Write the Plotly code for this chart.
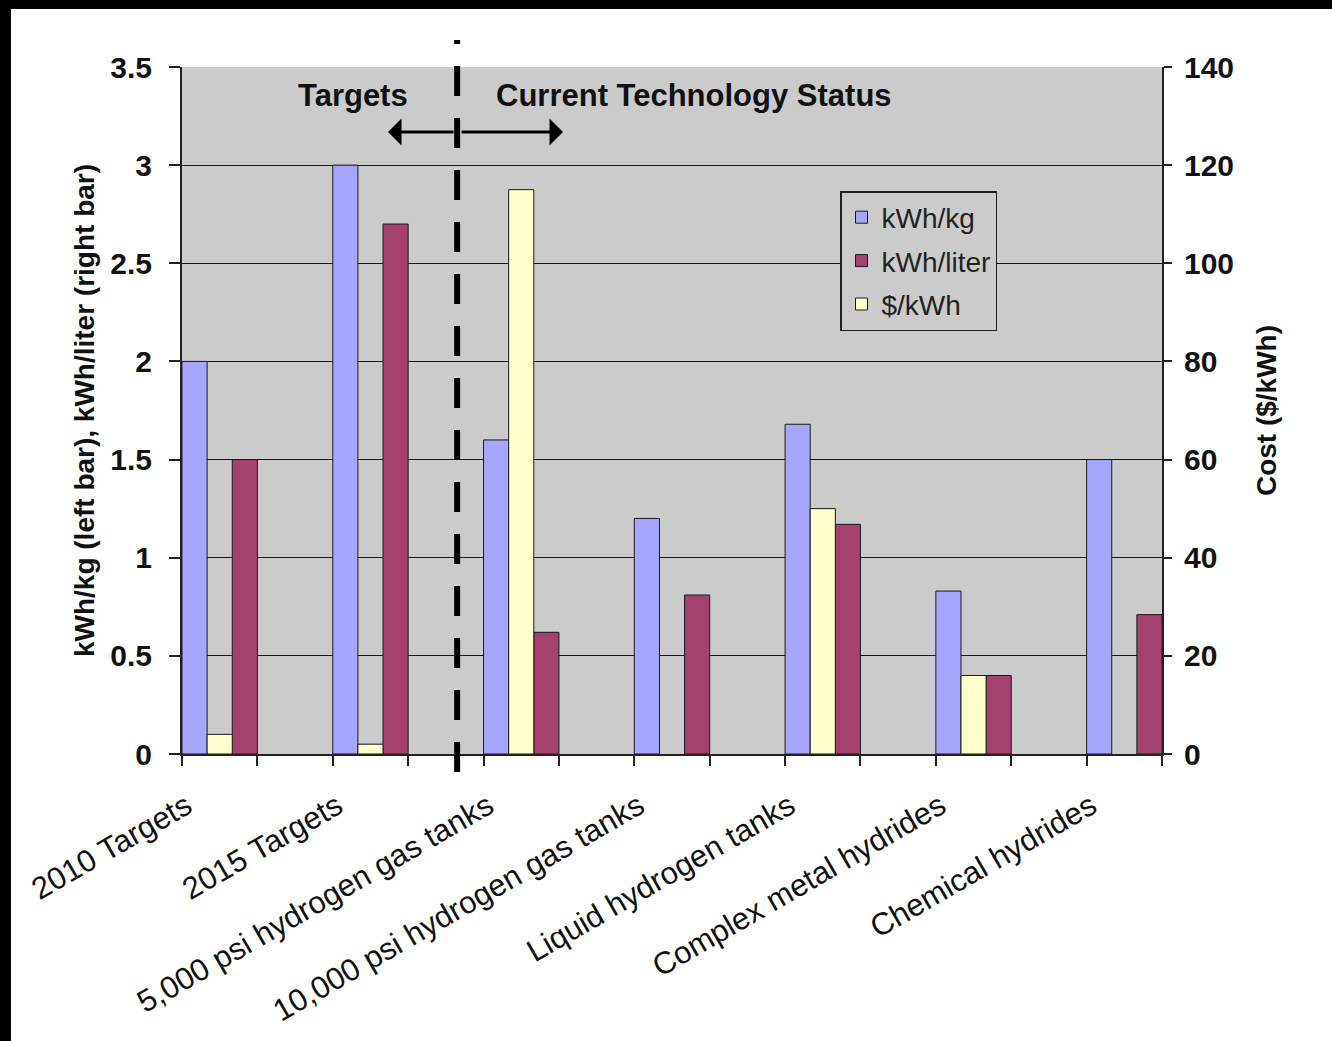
import plotly.graph_objects as go

# ---- data -------------------------------------------------------------
categories = [
    "2010 Targets",
    "2015 Targets",
    "5,000 psi hydrogen gas tanks",
    "10,000 psi hydrogen gas tanks",
    "Liquid hydrogen tanks",
    "Complex metal hydrides",
    "Chemical hydrides",
]
kwh_per_kg = [2.0, 3.0, 1.6, 1.2, 1.68, 0.83, 1.5]
kwh_per_liter = [1.5, 2.7, 0.62, 0.81, 1.17, 0.4, 0.71]
cost_per_kwh = [4, 2, 115, None, 50, 16, None]

left_ticks = [0, 0.5, 1, 1.5, 2, 2.5, 3, 3.5]
right_ticks = [0, 20, 40, 60, 80, 100, 120, 140]

# ---- layout geometry --------------------------------------------------
W, H = 1332, 1041
ML, MR, MT, MB = 182, 170, 67, 287
PW = W - ML - MR
PH = H - MT - MB

# each category occupies one slot, with an empty slot between neighbours
n_slots = 2 * len(categories) - 1
x_pos = [2 * i for i in range(len(categories))]
bar_w = 1 / 3
label_shift = 0.44           # slanted labels end near the left of each group
divider_slot = 3.15          # dashed separator between targets and status


def px_x(px):
    return (px - ML) / PW


def px_y(py):
    return (H - MB - py) / PH


def slot_to_paper(s):
    return (s + 0.5) / n_slots


FONT = "Liberation Sans, Arial, sans-serif"
INK = "#111111"
PLOT_BG = "#cbcbcb"

fig = go.Figure()

fig.add_trace(go.Bar(
    name="kWh/kg", x=x_pos, y=kwh_per_kg,
    width=bar_w, offset=-0.5,
    marker=dict(color="#a6a6ff", line=dict(color="#1a1a1a", width=1)),
    legendgroup="a", yaxis="y",
))
fig.add_trace(go.Bar(
    name="kWh/liter", x=x_pos, y=kwh_per_liter,
    width=bar_w, offset=-0.5 + 2 * bar_w,
    marker=dict(color="#a4416f", line=dict(color="#1a1a1a", width=1)),
    legendgroup="b", yaxis="y",
))
fig.add_trace(go.Bar(
    name="$/kWh", x=x_pos, y=cost_per_kwh,
    width=bar_w, offset=-0.5 + bar_w,
    marker=dict(color="#ffffcc", line=dict(color="#1a1a1a", width=1)),
    legendgroup="c", yaxis="y2",
))

shapes = [
    # dark frame edges along the top and left of the page
    dict(type="rect", xref="paper", yref="paper",
         x0=px_x(0), x1=px_x(W), y0=px_y(9), y1=px_y(0),
         fillcolor="black", line=dict(width=0), layer="above"),
    dict(type="rect", xref="paper", yref="paper",
         x0=px_x(0), x1=px_x(11), y0=px_y(H), y1=px_y(0),
         fillcolor="black", line=dict(width=0), layer="above"),
    # dashed divider between targets and current technology
    dict(type="line", xref="paper", yref="paper",
         x0=slot_to_paper(divider_slot), x1=slot_to_paper(divider_slot),
         y0=px_y(772), y1=px_y(40),
         line=dict(color="black", width=6, dash="30px,22px"), layer="above"),
]

header_font = dict(family=FONT, size=31, color=INK, weight="bold")
annotations = [
    dict(text="Targets", xref="paper", yref="paper",
         x=px_x(353), y=px_y(95), xanchor="center", yanchor="middle",
         showarrow=False, font=header_font),
    dict(text="Current Technology Status", xref="paper", yref="paper",
         x=px_x(694), y=px_y(95), xanchor="center", yanchor="middle",
         showarrow=False, font=header_font),
    # arrows pointing away from the divider
    dict(text="", xref="paper", yref="paper",
         x=px_x(388), y=px_y(132), ax=67, ay=0,
         showarrow=True, arrowhead=1, arrowsize=1.5, arrowwidth=3,
         arrowcolor="black", standoff=0),
    dict(text="", xref="paper", yref="paper",
         x=px_x(563), y=px_y(132), ax=-103, ay=0,
         showarrow=True, arrowhead=1, arrowsize=1.5, arrowwidth=3,
         arrowcolor="black", standoff=0),
]

fig.update_layout(
    width=W, height=H,
    margin=dict(l=ML, r=MR, t=MT, b=MB, autoexpand=False),
    paper_bgcolor="white",
    plot_bgcolor=PLOT_BG,
    barmode="overlay",
    font=dict(family=FONT, color=INK),
    shapes=shapes,
    annotations=annotations,
    showlegend=True,
    legend=dict(
        x=px_x(840), y=px_y(191), xanchor="left", yanchor="top",
        bgcolor=PLOT_BG, bordercolor="#222222", borderwidth=1.5,
        font=dict(family=FONT, size=28, color="#222222"),
        traceorder="grouped", tracegroupgap=4,
    ),
    xaxis=dict(
        range=[-0.5, n_slots - 0.5],
        tickmode="array", tickvals=[x - label_shift for x in x_pos],
        ticktext=categories,
        tickangle=-30,
        ticks="outside", ticklen=20, tickcolor="rgba(0,0,0,0)",
        tickfont=dict(family=FONT, size=31, color=INK),
        showgrid=False, zeroline=False,
        showline=True, linecolor="#222222", linewidth=2,
        minor=dict(tickmode="array",
                   tickvals=[s - 0.5 for s in range(n_slots + 1)],
                   ticks="outside", ticklen=10, tickcolor="#222222",
                   tickwidth=1.5, showgrid=False),
    ),
    yaxis=dict(
        range=[0, 3.5], tickmode="array", tickvals=left_ticks,
        ticks="outside", ticklen=11, tickcolor="#222222", tickwidth=1.5,
        ticklabelstandoff=11,
        tickfont=dict(family=FONT, size=30, color=INK, weight="bold"),
        showgrid=True, gridcolor="#1a1a1a", gridwidth=1.2,
        zeroline=False,
        showline=True, linecolor="#222222", linewidth=2,
        title=dict(text="kWh/kg (left bar), kWh/liter (right bar)",
                   standoff=7,
                   font=dict(family=FONT, size=28, color=INK, weight="bold")),
    ),
    yaxis2=dict(
        overlaying="y", side="right",
        range=[0, 140], tickmode="array", tickvals=right_ticks,
        ticks="outside", ticklen=8, tickcolor="#222222", tickwidth=1.5,
        ticklabelstandoff=6,
        tickfont=dict(family=FONT, size=30, color=INK, weight="bold"),
        showgrid=False, zeroline=False,
        showline=True, linecolor="#222222", linewidth=2,
        title=dict(text="Cost ($/kWh)", standoff=23,
                   font=dict(family=FONT, size=28, color=INK, weight="bold")),
    ),
)

fig.write_html("out.html")
